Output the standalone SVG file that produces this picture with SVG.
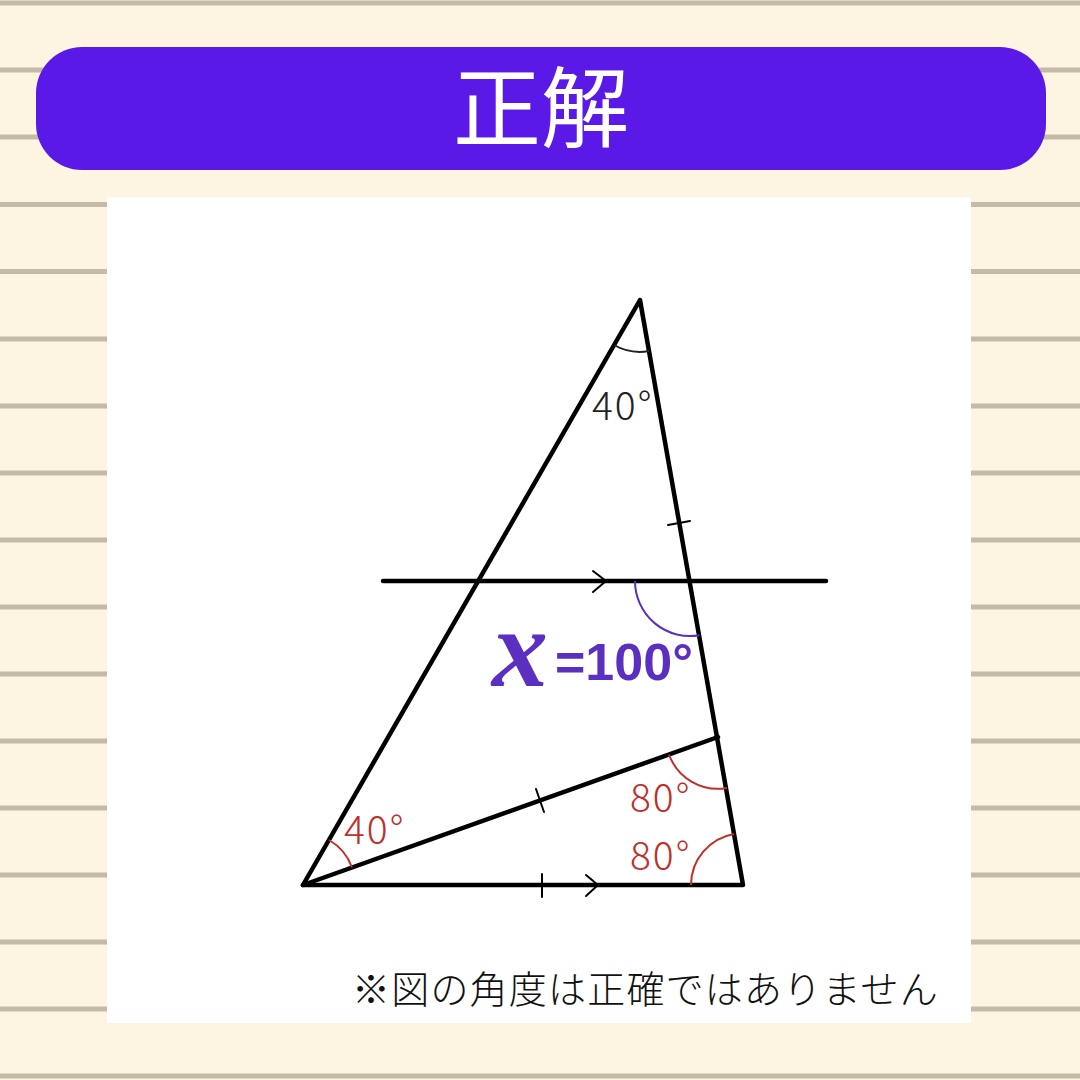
<svg xmlns="http://www.w3.org/2000/svg" width="1080" height="1080" viewBox="0 0 1080 1080">
<defs>
<style>
.rule{stroke:#c4bba6;stroke-width:5}
.edge{stroke:#000;stroke-width:4.5;fill:none;stroke-linecap:round;stroke-linejoin:round}
.mark{stroke:#000;stroke-width:2;fill:none;stroke-linecap:round;stroke-linejoin:round}
.arcb{stroke:#222;stroke-width:2;fill:none}
.arcr{stroke:#c0302a;stroke-width:2;fill:none}
.arcp{stroke:#5b2fc0;stroke-width:2;fill:none}
.lbl{font-family:"Noto Sans CJK JP","Liberation Sans",sans-serif;font-size:39px;font-weight:300;letter-spacing:2px}
.red{fill:#c0302a}
.jp{font-family:"Noto Sans CJK JP","Noto Sans",sans-serif}
</style>
</defs>
<rect width="1080" height="1080" fill="#fdf5e1"/>
<g id="rules">
<line class="rule" x1="0" y1="3" x2="1080" y2="3"/>
<line class="rule" x1="0" y1="70" x2="1080" y2="70"/>
<line class="rule" x1="0" y1="137" x2="1080" y2="137"/>
<line class="rule" x1="0" y1="204.5" x2="1080" y2="204.5"/>
<line class="rule" x1="0" y1="271.5" x2="1080" y2="271.5"/>
<line class="rule" x1="0" y1="339" x2="1080" y2="339"/>
<line class="rule" x1="0" y1="406" x2="1080" y2="406"/>
<line class="rule" x1="0" y1="473" x2="1080" y2="473"/>
<line class="rule" x1="0" y1="540" x2="1080" y2="540"/>
<line class="rule" x1="0" y1="607" x2="1080" y2="607"/>
<line class="rule" x1="0" y1="674" x2="1080" y2="674"/>
<line class="rule" x1="0" y1="741" x2="1080" y2="741"/>
<line class="rule" x1="0" y1="808" x2="1080" y2="808"/>
<line class="rule" x1="0" y1="875" x2="1080" y2="875"/>
<line class="rule" x1="0" y1="942" x2="1080" y2="942"/>
<line class="rule" x1="0" y1="1009" x2="1080" y2="1009"/>
<line class="rule" x1="0" y1="1076" x2="1080" y2="1076"/>
</g>
<g id="header">
<rect x="36" y="47" width="1010" height="123" rx="46" ry="46" fill="#5b19e8"/>
<text x="541" y="140" text-anchor="middle" class="jp" font-size="88" fill="#ffffff">正解</text>
</g>
<rect id="panel" x="107" y="197" width="864" height="826" fill="#ffffff"/>
<g id="connectors">
<polygon class="edge" points="640,300 303,885 743,885"/>
<line class="edge" x1="303" y1="885" x2="718" y2="737"/>
<line class="edge" x1="383" y1="581" x2="826" y2="581" stroke-width="3.5"/>
<polyline class="mark" points="593,571 606,581 593,592"/>
<polyline class="mark" points="586,875 598,885 586,896"/>
<line class="mark" x1="668" y1="525" x2="690" y2="521"/>
<line class="mark" x1="536" y1="789" x2="544" y2="812"/>
<line class="mark" x1="542" y1="874" x2="542" y2="897"/>
</g>
<g id="angle-top">
<path class="arcb" d="M614 345 A52 52 0 0 0 649 351"/>
<text class="lbl" x="592" y="420" fill="#222">40°</text>
</g>
<g id="angle-x">
<path class="arcp" d="M635 581 A55 55 0 0 0 699.5 635.2"/>
<text x="492" y="686" font-family="Liberation Serif,serif" font-style="italic" font-weight="bold" font-size="112" fill="#5b2fc0">x</text>
<text x="555" y="680" font-family="Liberation Sans,sans-serif" font-weight="bold" font-size="52" fill="#5b2fc0">=100°</text>
</g>
<g id="angle-bl">
<path class="arcr" d="M329 840 A52 52 0 0 1 352 867.5"/>
<text class="lbl red" x="344" y="844">40°</text>
</g>
<g id="angle-mid">
<path class="arcr" d="M669 754.5 A52 52 0 0 0 727 788"/>
<text class="lbl red" x="630" y="812">80°</text>
</g>
<g id="angle-br">
<path class="arcr" d="M691 885 A52 52 0 0 1 734 834"/>
<text class="lbl red" x="630" y="870">80°</text>
</g>
<text id="note" x="352" y="1003" class="jp" font-size="38" font-weight="300" letter-spacing="1.2" fill="#111">※図の角度は正確ではありません</text>
</svg>
